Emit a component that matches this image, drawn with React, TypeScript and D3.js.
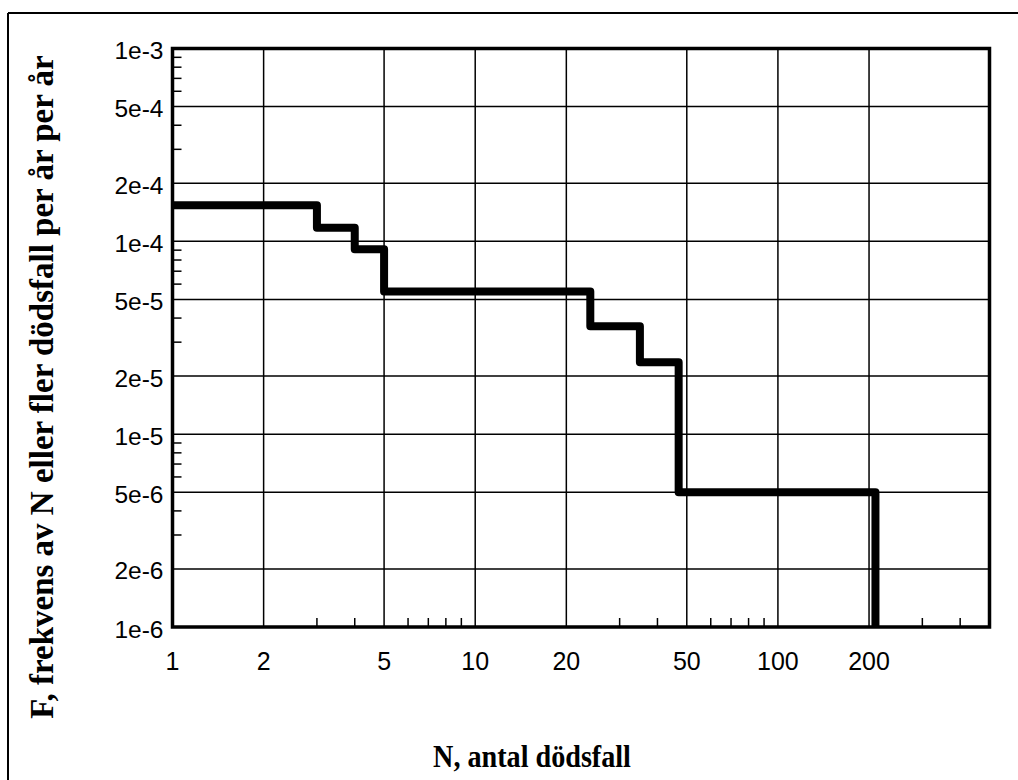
import React from "react";
import * as d3 from "d3";

const stepN = [1, 3, 4, 5, 24, 35, 47, 210];
const stepF = [1.54e-4, 1.175e-4, 9.1e-5, 5.5e-5, 3.63e-5, 2.36e-5, 5e-6, 1e-6];

const xTickValues = [1, 2, 5, 10, 20, 50, 100, 200];
const xTickLabels = ["1", "2", "5", "10", "20", "50", "100", "200"];
const xGridValues = [2, 5, 10, 20, 50, 100, 200];
const xMinorValues = [3, 4, 6, 7, 8, 9, 30, 40, 60, 70, 80, 90, 300, 400];

const yTickValues = [1e-3, 5e-4, 2e-4, 1e-4, 5e-5, 2e-5, 1e-5, 5e-6, 2e-6, 1e-6];
const yTickLabels = ["1e-3", "5e-4", "2e-4", "1e-4", "5e-5", "2e-5", "1e-5", "5e-6", "2e-6", "1e-6"];
const yGridValues = [5e-4, 2e-4, 1e-4, 5e-5, 2e-5, 1e-5, 5e-6, 2e-6];
const yMinorValues = [
  9e-4, 8e-4, 7e-4, 6e-4, 4e-4, 3e-4,
  9e-5, 8e-5, 7e-5, 6e-5, 4e-5, 3e-5,
  9e-6, 8e-6, 7e-6, 6e-6, 4e-6, 3e-6,
];

const xTitle = "N, antal dödsfall";
const yTitle = "F, frekvens av N eller fler dödsfall per år per år";

export default function App() {
  const left = 172.5, right = 989.5, top = 48.5, bottom = 627;
  const x = d3.scaleLog().domain([1, 500]).range([left, right]);
  const y = d3.scaleLog().domain([1e-6, 1e-3]).range([bottom, top]);
  const pts: [number, number][] = stepN.map((n, i) => [n, stepF[i]]);
  const line = d3
    .line<[number, number]>()
    .x((d) => x(d[0]))
    .y((d) => y(d[1]))
    .curve(d3.curveStepAfter);

  const tickFont = "Arial, 'Liberation Sans', sans-serif";
  const titleFont = "'Times New Roman', 'Liberation Serif', serif";

  return (
    <svg
      width={1018}
      height={780}
      style={{ position: "absolute", left: 0, top: 0, background: "#fff" }}
    >
      <rect x={0} y={0} width={1018} height={780} fill="#fff" />
      {/* outer frame */}
      <line x1={8} y1={13} x2={1018} y2={13} stroke="#000" strokeWidth={2} />
      <line x1={8} y1={13} x2={8} y2={780} stroke="#000" strokeWidth={2} />

      {/* grid */}
      {xGridValues.map((v) => (
        <line key={"xg" + v} x1={x(v)} x2={x(v)} y1={top} y2={bottom} stroke="#000" strokeWidth={1.5} />
      ))}
      {yGridValues.map((v) => (
        <line key={"yg" + v} x1={left} x2={right} y1={y(v)} y2={y(v)} stroke="#000" strokeWidth={1.5} />
      ))}
      {/* minor ticks */}
      {xMinorValues.map((v) => (
        <line key={"xm" + v} x1={x(v)} x2={x(v)} y1={bottom} y2={bottom - 9} stroke="#000" strokeWidth={1.5} />
      ))}
      {yMinorValues.map((v) => (
        <line key={"ym" + v} x1={left} x2={left + 9} y1={y(v)} y2={y(v)} stroke="#000" strokeWidth={1.5} />
      ))}

      {/* step line */}
      <path
        d={line(pts) || ""}
        fill="none"
        stroke="#000"
        strokeWidth={8}
        strokeLinejoin="round"
        strokeLinecap="butt"
      />

      {/* plot frame */}
      <rect
        x={left}
        y={top}
        width={right - left}
        height={bottom - top}
        fill="none"
        stroke="#000"
        strokeWidth={3.5}
      />

      {/* tick labels */}
      {xTickValues.map((v, i) => (
        <text
          key={"xl" + v}
          x={x(v)}
          y={bottom + 43}
          textAnchor="middle"
          fontFamily={tickFont}
          fontSize={25}
          fill="#000"
        >
          {xTickLabels[i]}
        </text>
      ))}
      {yTickValues.map((v, i) => (
        <text
          key={"yl" + v}
          x={left - 9}
          y={y(v) + 10.5}
          textAnchor="end"
          fontFamily={tickFont}
          fontSize={24.5}
          fill="#000"
        >
          {yTickLabels[i]}
        </text>
      ))}

      {/* axis titles */}
      <text
        transform="translate(532, 767) scale(0.88, 1)"
        textAnchor="middle"
        fontFamily={titleFont}
        fontWeight="bold"
        fontSize={32}
        fill="#000"
      >
        {xTitle}
      </text>
      <text
        transform="translate(53, 387) rotate(-90)"
        textAnchor="middle"
        fontFamily={titleFont}
        fontWeight="bold"
        fontSize={33}
        fill="#000"
      >
        {yTitle}
      </text>
    </svg>
  );
}
